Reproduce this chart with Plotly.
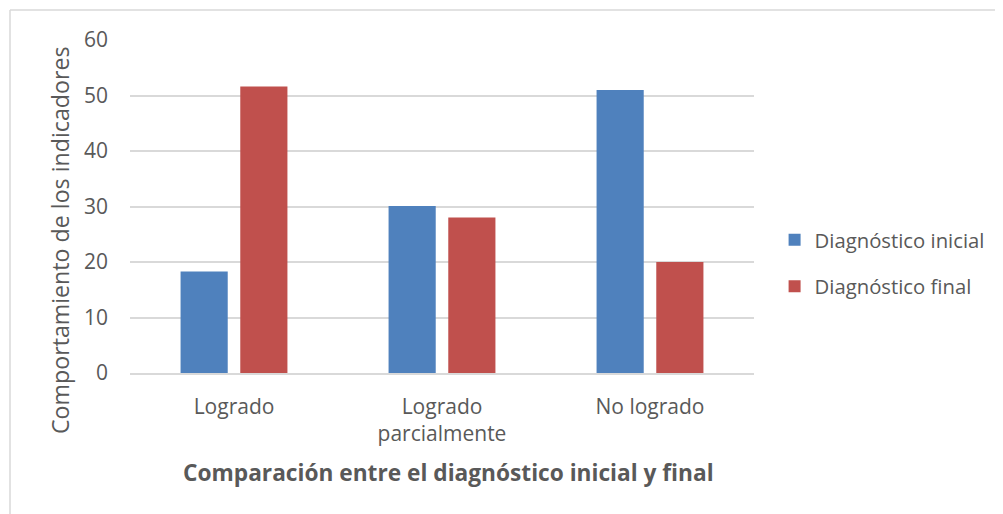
import plotly.graph_objects as go

categories = ["Logrado", "Logrado<br>parcialmente", "No logrado"]
inicial = [18.3, 30.1, 51.0]
final = [51.6, 28.0, 20.0]
series_names = ["Diagnóstico inicial", "Diagnóstico final"]
y_ticks = [0, 10, 20, 30, 40, 50, 60]
x_title = "Comparación entre el diagnóstico inicial y final"
y_title = "Comportamiento de los indicadores"

FONT = "Open Sans"
GRAY = "#595959"

fig = go.Figure()
fig.add_bar(x=categories, y=inicial, name=series_names[0], marker_color="#4F81BD",
            marker_line_width=0, legendgroup="a")
fig.add_bar(x=categories, y=final, name=series_names[1], marker_color="#C0504D",
            marker_line_width=0, legendgroup="b")

fig.update_layout(
    width=995, height=506,
    margin=dict(l=122, r=249, t=32, b=141, autoexpand=False),
    paper_bgcolor="white", plot_bgcolor="white",
    font=dict(family=FONT, color=GRAY, size=21),
    barmode="group", bargap=0.426, bargroupgap=0.21,
    legend=dict(x=1.033, y=0.33, xanchor="left", yanchor="middle",
                font=dict(size=20.3, color=GRAY), itemwidth=30, tracegroupgap=17),
    xaxis=dict(showgrid=False, showline=True, linecolor="#D9D9D9", linewidth=1.5,
               ticks="", tickfont=dict(size=21, color=GRAY), ticklabelstandoff=14),
    yaxis=dict(range=[0, 60], tickvals=y_ticks, showgrid=True, gridcolor="#D9D9D9",
               gridwidth=1.5, zeroline=False, showline=False, ticks="",
               tickfont=dict(size=21, color=GRAY), ticklabelstandoff=21),
    annotations=[
        dict(text="<b>" + x_title + "</b>", xref="paper", yref="paper",
             x=(448 - 130) / 624, y=(373 - 473) / 333, xanchor="center", yanchor="middle",
             showarrow=False, font=dict(size=22.7, color=GRAY)),
        dict(text=y_title, xref="paper", yref="paper", textangle=-90,
             x=(60 - 130) / 624, y=(373 - 241) / 333, xanchor="center", yanchor="middle",
             showarrow=False, font=dict(size=23.2, color=GRAY)),
    ],
    shapes=[
        dict(type="line", xref="paper", yref="paper", x0=-0.1923, x1=1.5, y0=1.09, y1=1.09,
             line=dict(color="#D9D9D9", width=1.5)),
        dict(type="line", xref="paper", yref="paper", x0=-0.1923, x1=-0.1923, y0=1.09, y1=-0.5,
             line=dict(color="#D9D9D9", width=1.5)),
    ],
)

fig.write_html("out.html")
